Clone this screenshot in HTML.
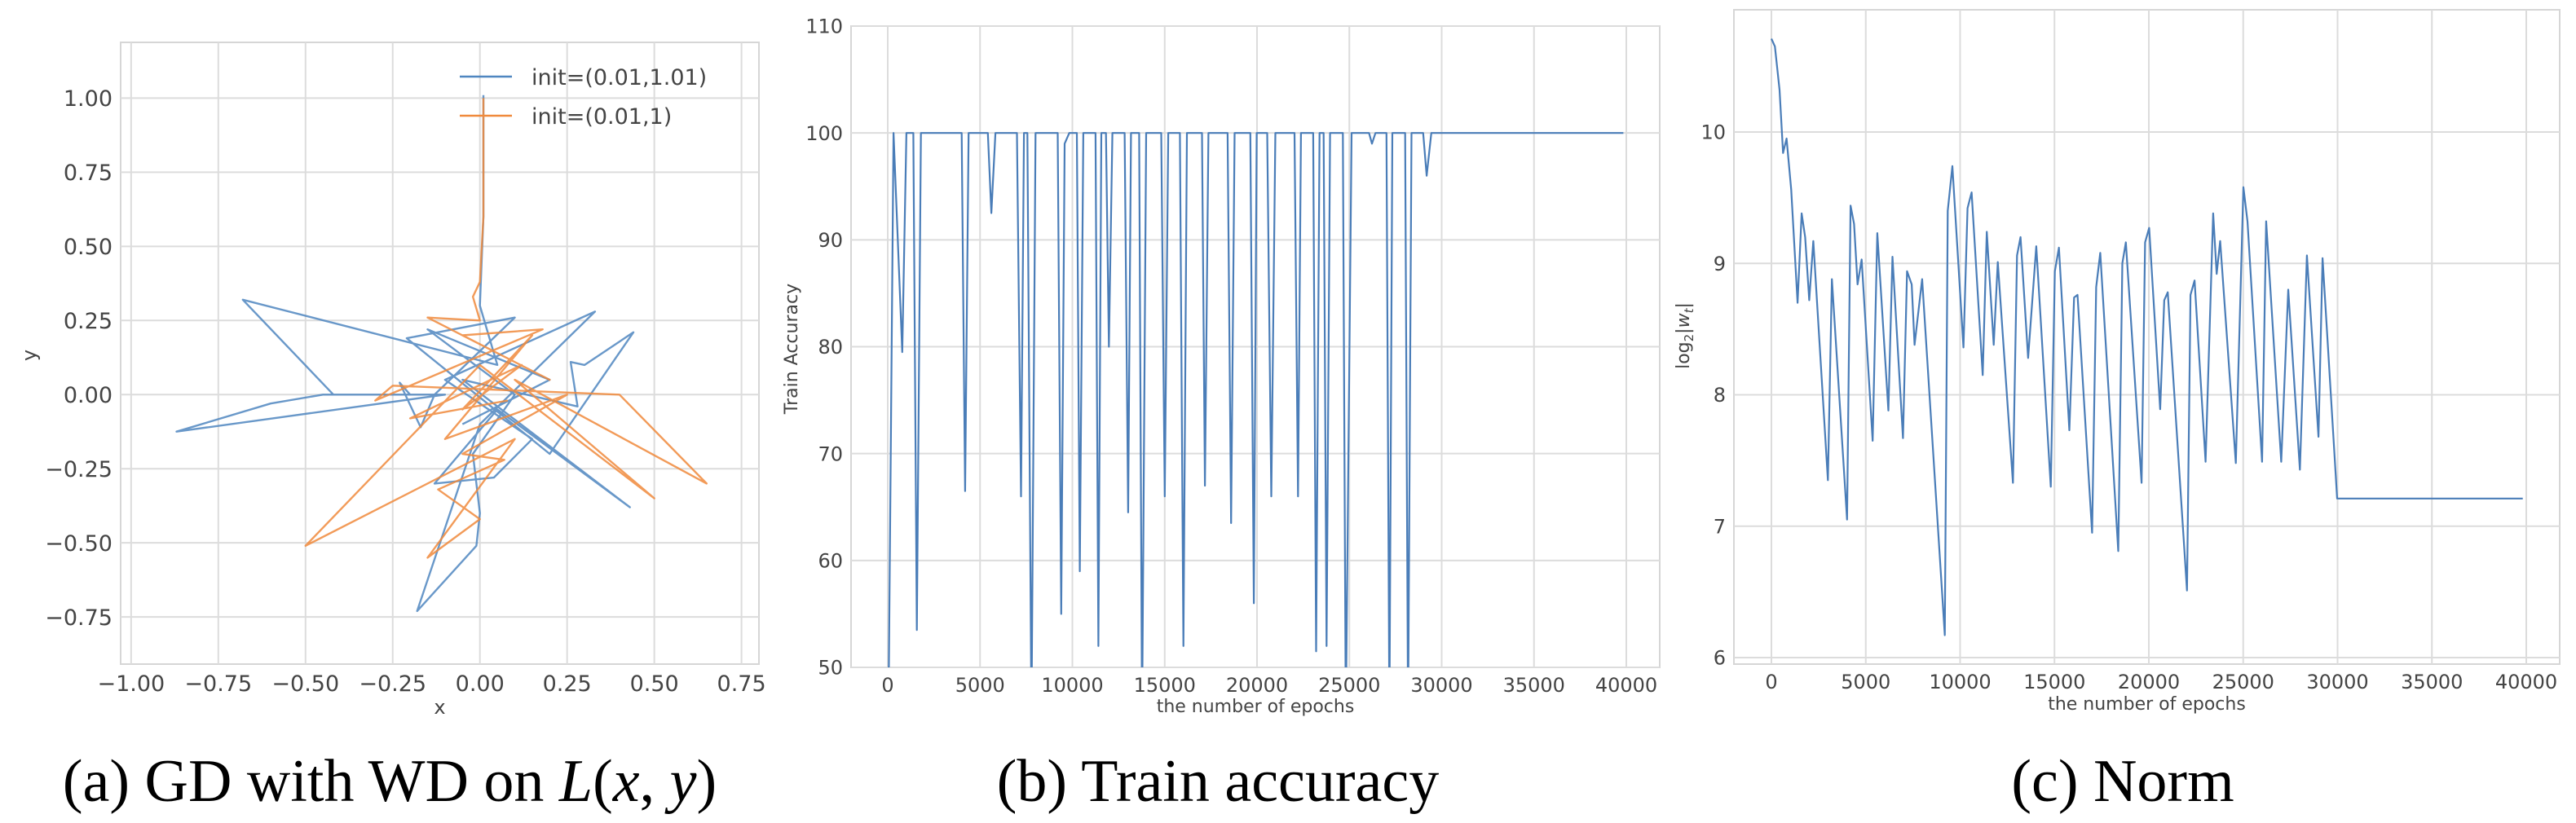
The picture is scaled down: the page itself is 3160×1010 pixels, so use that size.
<!DOCTYPE html>
<html><head><meta charset="utf-8"><style>
html,body{margin:0;padding:0;background:#fff;}
svg{display:block;}
text{font-family:"DejaVu Sans","Liberation Sans",sans-serif;fill:#444;}
.cap{font-family:"Liberation Serif",serif;fill:#000;font-size:74px;}
</style></head><body>
<svg id="fig" width="3160" height="1010" viewBox="0 0 3160 1010" xmlns="http://www.w3.org/2000/svg">
<text class="cap" x="478" y="983" text-anchor="middle">(a) GD with WD on <tspan font-style="italic">L</tspan>(<tspan font-style="italic">x</tspan>, <tspan font-style="italic">y</tspan>)</text>
<text class="cap" x="1494" y="983" text-anchor="middle">(b) Train accuracy</text>
<text class="cap" x="2604" y="983" text-anchor="middle">(c) Norm</text>
</svg>
<script>
// Panel (a) trajectories
const blueX=[0.01,0.01,0.0,0.05,-0.68,-0.42,-0.1,-0.87,-0.6,-0.45,-0.2,-0.23,-0.17,-0.13,0.1,-0.21,0.2,0.44,0.3,0.26,0.28,-0.05,0.43,0.05,-0.13,0.04,0.15,-0.1,0.33,0.0,-0.18,-0.01,0.0,-0.02,0.1,-0.15,0.2,-0.05];
const blueY=[1.01,0.6,0.3,0.1,0.32,0.0,0.0,-0.125,-0.03,0.0,0.0,0.04,-0.11,0.0,0.26,0.19,-0.2,0.21,0.1,0.11,-0.04,0.05,-0.38,-0.05,-0.3,-0.28,-0.15,0.05,0.28,-0.1,-0.73,-0.51,-0.4,-0.2,0.0,0.22,0.05,-0.1];
const orangeX=[0.01,0.01,0.0,-0.02,0.0,-0.15,0.2,-0.05,0.18,-0.3,-0.25,0.4,0.65,0.1,0.5,0.0,-0.5,0.1,-0.15,0.0,-0.12,0.07,-0.05,0.25,-0.1,0.15,-0.05,0.12,-0.2,0.08];
const orangeY=[1.0,0.6,0.38,0.33,0.25,0.26,0.05,0.2,0.22,-0.02,0.03,0.0,-0.3,0.05,-0.35,0.1,-0.51,-0.15,-0.55,-0.42,-0.32,-0.22,-0.2,0.0,-0.15,0.2,-0.05,0.1,-0.08,-0.02];
const aXTicks=[-1.0,-0.75,-0.5,-0.25,0.0,0.25,0.5,0.75];
const aYTicks=[-0.75,-0.5,-0.25,0.0,0.25,0.5,0.75,1.0];
// Panel (b) train accuracy
const accEpochs=[0,63,315,788,1009,1387,1576,1797,4003,4192,4381,5421,5611,5831,6997,7218,7376,7565,7785,8006,9204,9393,9582,9834,10244,10401,10591,11253,11410,11568,11820,11978,12167,12829,13018,13175,13617,13774,13995,14814,15004,15193,15823,16012,16201,17021,17178,17368,18408,18597,18786,19637,19826,19984,20551,20772,20992,22032,22222,22379,23041,23199,23388,23609,23766,23955,24649,24806,25121,26067,26225,26414,27013,27170,27328,28021,28179,28368,28998,29187,29439,39841];
const accValues=[50,50,100,79.5,100,100,53.5,100,100,66.5,100,100,92.5,100,100,66,100,100,45,100,100,55,99,100,100,59,100,100,52,100,100,80,100,100,64.5,100,100,45,100,100,66,100,100,52,100,100,67,100,100,63.5,100,100,56,100,100,66,100,100,66,100,100,51.5,100,100,52,100,100,45,100,100,99,100,100,45,100,100,45,100,100,96,100,100];
const bXTicks=[0,5000,10000,15000,20000,25000,30000,35000,40000];
const bYTicks=[50,60,70,80,90,100,110];
// Panel (c) norm
const normEpochs=[0,185,432,617,802,1049,1388,1604,1789,2005,2221,2992,3207,4009,4194,4379,4564,4780,5366,5613,6199,6415,6970,7186,7433,7587,7988,9190,9345,9591,10177,10393,10609,11195,11411,11781,11997,12799,13015,13200,13601,14033,14804,15019,15235,15790,16037,16222,16993,17209,17425,18381,18597,18782,19615,19800,20016,20602,20818,21003,22021,22206,22422,23008,23409,23594,23779,24611,25012,25228,26000,26215,27017,27387,28004,28374,28991,29207,29977,39815];
const normValues=[10.71,10.65,10.32,9.84,9.95,9.56,8.70,9.38,9.2,8.72,9.17,7.35,8.88,7.05,9.44,9.30,8.84,9.03,7.65,9.23,7.88,9.05,7.67,8.94,8.84,8.38,8.88,6.17,9.40,9.74,8.36,9.42,9.54,8.15,9.24,8.38,9.01,7.33,9.06,9.20,8.28,9.13,7.30,8.94,9.12,7.73,8.74,8.76,6.95,8.82,9.08,6.81,9.00,9.16,7.33,9.16,9.27,7.89,8.72,8.78,6.51,8.76,8.87,7.49,9.38,8.92,9.17,7.48,9.58,9.32,7.49,9.32,7.49,8.80,7.43,9.06,7.68,9.04,7.21,7.21];
const cXTicks=[0,5000,10000,15000,20000,25000,30000,35000,40000];
const cYTicks=[6,7,8,9,10];

const NS='http://www.w3.org/2000/svg';
const svg=document.getElementById('fig');
function mk(tag,attrs,parent){const e=document.createElementNS(NS,tag);for(const k in attrs)e.setAttribute(k,attrs[k]);(parent||svg).appendChild(e);return e;}
function lin(d0,d1,r0,r1){return v=>r0+(v-d0)*(r1-r0)/(d1-d0);}

function panel(cfg){
  const g=mk('g',{});
  
  
  const sx=lin(cfg.xd[0],cfg.xd[1],cfg.L,cfg.R), sy=lin(cfg.yd[0],cfg.yd[1],cfg.B,cfg.T);
  const bg=mk('rect',{x:cfg.L,y:cfg.T,width:cfg.R-cfg.L,height:cfg.B-cfg.T,fill:'#fff',stroke:'#d6d6d6','stroke-width':2},g);
  
  
  cfg.xt.forEach(t=>{const x=sx(t);
    const l=mk('line',{x1:x,x2:x,y1:cfg.T,y2:cfg.B,stroke:'#dcdcdc','stroke-width':2},g);
    
    
    const tx=mk('text',{x:x,y:cfg.B+cfg.fs+6,'text-anchor':'middle','font-size':cfg.fs},g);
    
    
    tx.textContent=cfg.xf(t);});
  cfg.yt.forEach(t=>{const y=sy(t);
    const l=mk('line',{x1:cfg.L,x2:cfg.R,y1:y,y2:y,stroke:'#dcdcdc','stroke-width':2},g);
    
    
    const tx=mk('text',{x:cfg.L-10,y:y+cfg.fs*0.36,'text-anchor':'end','font-size':cfg.fs},g);
    
    
    tx.textContent=cfg.yf(t);});
  const cp=mk('clipPath',{id:'clip-'+cfg.name},g);
  mk('rect',{x:cfg.L,y:cfg.T,width:cfg.R-cfg.L,height:cfg.B-cfg.T},cp);
  cfg.series.forEach(s=>{
    const pts=s.x.map((v,i)=>sx(v).toFixed(1)+','+sy(s.y[i]).toFixed(1)).join(' ');
    const p=mk('polyline',{points:pts,fill:'none',stroke:s.c,'stroke-width':cfg.lw,'stroke-linejoin':'round','clip-path':'url(#clip-'+cfg.name+')',opacity:s.o||1},g);
    
    
  });
  const xl=mk('text',{x:(cfg.L+cfg.R)/2,y:cfg.xly,'text-anchor':'middle','font-size':cfg.lfs},g);
  
  
  xl.textContent=cfg.xl;
  const yl=mk('text',{x:0,y:0,'text-anchor':'middle','font-size':cfg.lfs,transform:`translate(${cfg.ylx},${cfg.yly}) rotate(-90)`},g);
  
  
  if(cfg.ylHTML){yl.innerHTML=cfg.ylHTML;}else yl.textContent=cfg.yl;
  return g;
}
const f2=v=>(v<0?'\u2212':'')+Math.abs(v).toFixed(2);
const ga=panel({name:'panel-a-trajectory',L:148,R:931,T:52,B:815,xd:[-1.03,0.80],yd:[-0.909,1.188],xt:aXTicks,yt:aYTicks,xf:f2,yf:f2,fs:27,lfs:24,lw:2.4,
  xl:'x',xly:876,yl:'y',ylx:44,yly:436,
  series:[{x:blueX,y:blueY,c:'#4f86c0',n:'series-blue-trajectory',o:0.85},{x:orangeX,y:orangeY,c:'#f08a3c',n:'series-orange-trajectory',o:0.85}]});
[['init=(0.01,1.01)','#4f86c0',94],['init=(0.01,1)','#f08a3c',142]].forEach(([t,c,y])=>{
  const l=mk('line',{x1:564,x2:628,y1:y,y2:y,stroke:c,'stroke-width':2.5},ga);
  
  
  const tx=mk('text',{x:652,y:y+10,'font-size':27},ga);
  
  
  tx.textContent=t;});
panel({name:'panel-b-accuracy',L:1044,R:2036,T:32,B:819,xd:[-(1089-1044)*40000/(1995-1089),40000+(2036-1995)*40000/(1995-1089)],yd:[50,110],xt:bXTicks,yt:bYTicks,xf:v=>String(v),yf:v=>String(v),fs:24,lfs:22,lw:2.2,
  xl:'the number of epochs',xly:874,yl:'Train Accuracy',ylx:978,yly:428,
  series:[{x:accEpochs,y:accValues,c:'#4a7db8',n:'series-train-accuracy'}]});
panel({name:'panel-c-norm',L:2127,R:3140,T:12,B:815,xd:[-(2173-2127)*40000/(3099-2173),40000+(3140-3099)*40000/(3099-2173)],yd:[5.95,10.93],xt:cXTicks,yt:cYTicks,xf:v=>String(v),yf:v=>String(v),fs:24,lfs:22,lw:2.2,
  xl:'the number of epochs',xly:871,ylHTML:'log<tspan font-size="15" dy="5">2</tspan><tspan dy="-5">|</tspan><tspan font-style="italic">w</tspan><tspan font-size="15" dy="5" font-style="italic">t</tspan><tspan dy="-5">|</tspan>',ylx:2072,yly:412,
  series:[{x:normEpochs,y:normValues,c:'#4a7db8',n:'series-norm'}]});
</script>
</body></html>
